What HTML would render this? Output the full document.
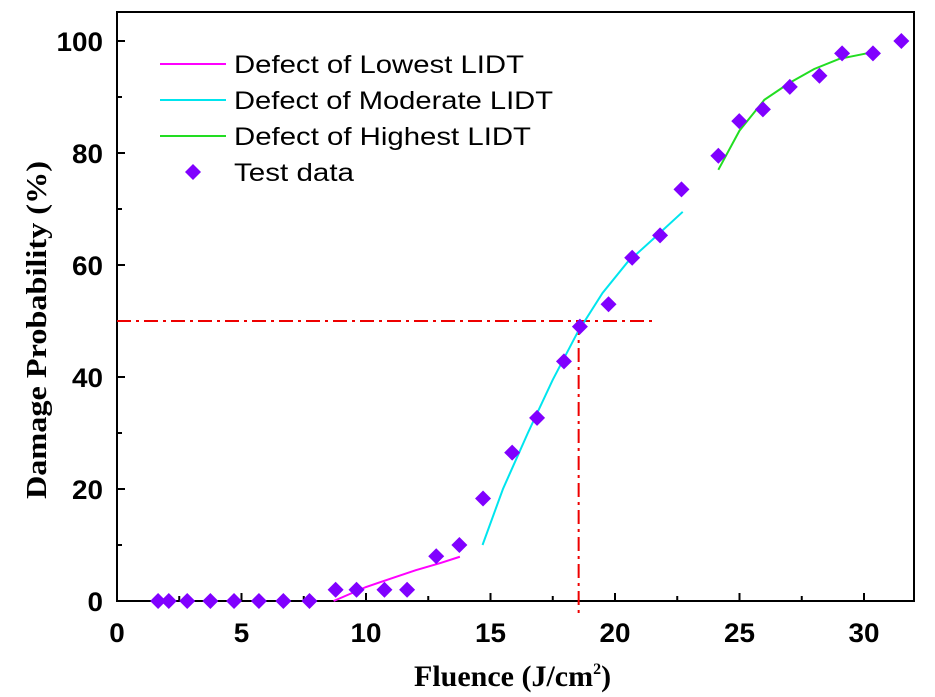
<!DOCTYPE html>
<html><head><meta charset="utf-8"><style>
body{margin:0;background:#fff;width:935px;height:697px;overflow:hidden}
svg{display:block}
.tk{font:bold 27px "Liberation Sans",sans-serif;fill:#000}
.lg{font:25px "Liberation Sans",sans-serif;fill:#000}
</style></head><body>
<svg id="chart" width="935" height="697"></svg>
<script>
const xTicks=[0,5,10,15,20,25,30];
const yTicks=[0,20,40,60,80,100];
const testX=[1.65,2.08,2.82,3.75,4.70,5.70,6.68,7.73,8.78,9.62,10.74,11.65,12.82,13.75,14.70,15.87,16.87,17.95,18.59,19.74,20.69,21.81,22.67,24.15,24.99,25.94,27.02,28.21,29.12,30.36,31.5];
const testY=[0,0,0,0,0,0,0,0,2,2,2,2,8,10,18.3,26.5,32.7,42.8,49,53,61.3,65.3,73.5,79.5,85.7,87.8,91.8,93.8,97.8,97.8,100];
const lowX=[8.7,10,11,12,13,13.77];
const lowY=[0,2.5,4,5.5,6.8,7.9];
const modX=[14.68,15.5,16.5,17.5,18.5,19.5,20.5,21.5,22.72];
const modY=[10,20,30,39.5,48,55,60.5,64.5,69.5];
const highX=[24.15,25,26,27,28,29,30.12];
const highY=[77,84,89.5,92.5,95,96.8,97.8];
const thresholdY=50, thresholdX=18.54, refLineEndX=21.65;

const NS="http://www.w3.org/2000/svg";
const svg=document.getElementById('chart');
const L=117,R=914,T=12,B=601;
const sx=v=>117+v*24.9;
const sy=v=>601-v*5.6;
function el(t,a,p){const e=document.createElementNS(NS,t);for(const k in a)e.setAttribute(k,a[k]);(p||svg).appendChild(e);return e;}

const frame=el('rect',{x:L,y:T,width:R-L,height:B-T,fill:'none',stroke:'#000','stroke-width':2});



for(let v=0;v<=31;v+=2.5){
  const major=v%5===0;
  const t=el('line',{x1:sx(v),x2:sx(v),y1:B,y2:B-(major?8:5),stroke:'#000','stroke-width':2});
  
  
}
for(let v=0;v<=100;v+=10){
  const major=v%20===0;
  const t=el('line',{x1:L,x2:L+(major?8:5),y1:sy(v),y2:sy(v),stroke:'#000','stroke-width':2});
  
  
}
xTicks.forEach(v=>{
  const s=String(v);
  const t=el('text',{x:sx(v),y:642,'text-anchor':'middle',class:'tk',textLength:s.length*15.5,lengthAdjust:'spacingAndGlyphs'});t.textContent=s;
  
  
});
yTicks.forEach(v=>{
  const s=String(v);
  const t=el('text',{x:103,y:sy(v)+10,'text-anchor':'end',class:'tk',textLength:s.length*15.5,lengthAdjust:'spacingAndGlyphs'});t.textContent=s;
  
  
});

const yl=el('text',{x:0,y:0,transform:'translate(46,330) rotate(-90)','text-anchor':'middle',textLength:338,lengthAdjust:'spacingAndGlyphs',style:'font:bold 29px "Liberation Serif",serif'});
yl.textContent='Damage Probability (%)';


const xl=el('text',{x:414,y:686,style:'font:bold 30px "Liberation Serif",serif'});
xl.innerHTML='Fluence (J/cm<tspan dy="-12" font-size="16">2</tspan><tspan dy="12">)</tspan>';



const h=el('line',{x1:sx(0),x2:sx(refLineEndX),y1:sy(thresholdY),y2:sy(thresholdY),stroke:'#e00','stroke-width':2,'stroke-dasharray':'14,5,3,5'});


const vl=el('line',{x1:sx(thresholdX),x2:sx(thresholdX),y1:sy(thresholdY),y2:B+14,stroke:'#e00','stroke-width':2,'stroke-dasharray':'14,5,3,5'});



function curve(xs,ys,col,name){
  const p=el('polyline',{points:xs.map((x,i)=>sx(x)+','+sy(ys[i])).join(' '),fill:'none',stroke:col,'stroke-width':2});
  
  
}
curve(lowX,lowY,'#ff00ff','lowest-lidt-curve');
curve(modX,modY,'#00e5ee','moderate-lidt-curve');
curve(highX,highY,'#22dd22','highest-lidt-curve');

function diamond(cx,cy,r){return `${cx},${cy-r} ${cx+r},${cy} ${cx},${cy+r} ${cx-r},${cy}`;}
testX.forEach((x,i)=>{
  const d=el('polygon',{points:diamond(sx(x),sy(testY[i]),8),fill:'#8000ff'});
  
  
});

const lg=el('g',{});


[['Defect of Lowest LIDT','#ff00ff',64,290],['Defect of Moderate LIDT','#00e5ee',100,319],['Defect of Highest LIDT','#22dd22',136,297]].forEach(([t,c,y,w])=>{
  const ln=el('line',{x1:160,x2:226,y1:y,y2:y,stroke:c,'stroke-width':2},lg);
  
  
  const tx=el('text',{x:234,y:y+9,class:'lg',textLength:w,lengthAdjust:'spacingAndGlyphs'},lg);tx.textContent=t;
  
  
});
const ld=el('polygon',{points:diamond(193,172,8),fill:'#8000ff'},lg);


const lt=el('text',{x:234,y:181,class:'lg',textLength:120,lengthAdjust:'spacingAndGlyphs'},lg);lt.textContent='Test data';


</script>
</body></html>
